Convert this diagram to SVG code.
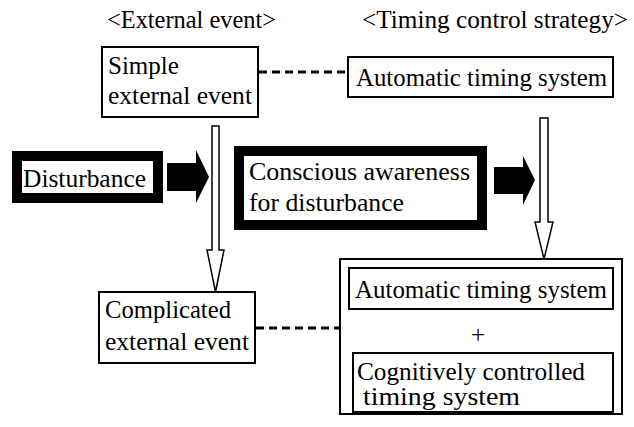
<svg xmlns="http://www.w3.org/2000/svg" width="634" height="427" viewBox="0 0 634 427">
<style>
.thin{fill:#fff;stroke:#000;stroke-width:2}
.thick{fill:#fff;stroke:#000;stroke-width:10}
.dash{fill:none;stroke:#000;stroke-width:3;stroke-dasharray:8 5}
.hollow{fill:#fff;stroke:#000;stroke-width:1.5}
.solid{fill:#000;stroke:none}
.t{font-family:'Liberation Serif','Times New Roman',serif;font-size:25px;fill:#000}
</style>
<rect width="634" height="427" fill="#fff"/>
<g id="headers">
<text class="t" x="107" y="28" textLength="169" lengthAdjust="spacingAndGlyphs">&lt;External event&gt;</text>
<text class="t" x="362" y="28" textLength="266" lengthAdjust="spacingAndGlyphs">&lt;Timing control strategy&gt;</text>
</g>
<g id="connectors">
<line class="dash" x1="259" y1="72" x2="348" y2="72"/>
<line class="dash" x1="256" y1="328" x2="340" y2="328"/>
<path class="solid" d="M167,163 H196 V150 L209,177 L196,203 V191 H167 Z"/>
<path class="solid" d="M494,167 H523 V156 L535,180 L523,205 V194 H494 Z"/>
<path class="hollow" d="M212,126 H219 V250 H224 L215.5,292 L207,250 H212 Z"/>
<path class="hollow" d="M540,118 H548 V222 H553 L544,259 L535,222 H540 Z"/>
</g>
<g id="simple">
<rect class="thin" x="102" y="47" width="156" height="70"/>
<text class="t" x="108" y="74">Simple</text>
<text class="t" x="108" y="104" textLength="144" lengthAdjust="spacingAndGlyphs">external event</text>
</g>
<g id="auto-top">
<rect class="thin" x="348" y="57" width="265" height="40"/>
<text class="t" x="356" y="86" textLength="251" lengthAdjust="spacingAndGlyphs">Automatic timing system</text>
</g>
<g id="disturbance">
<rect class="thick" x="17" y="156" width="141" height="42"/>
<text class="t" x="23" y="187" textLength="123" lengthAdjust="spacingAndGlyphs">Disturbance</text>
</g>
<g id="conscious">
<rect class="thick" x="239" y="151" width="243" height="74"/>
<text class="t" x="249" y="180" textLength="221" lengthAdjust="spacingAndGlyphs">Conscious awareness</text>
<text class="t" x="249" y="211" textLength="155" lengthAdjust="spacingAndGlyphs">for disturbance</text>
</g>
<g id="complicated">
<rect class="thin" x="99" y="292" width="156" height="71"/>
<text class="t" x="105" y="318" textLength="126" lengthAdjust="spacingAndGlyphs">Complicated</text>
<text class="t" x="105" y="350" textLength="144" lengthAdjust="spacingAndGlyphs">external event</text>
</g>
<g id="combined">
<rect class="thin" x="340" y="259" width="282" height="155"/>
<rect class="thin" x="349" y="268" width="264" height="41"/>
<text class="t" x="355" y="298" textLength="252" lengthAdjust="spacingAndGlyphs">Automatic timing system</text>
<text class="t" x="478" y="343" text-anchor="middle">+</text>
<rect class="thin" x="353" y="353" width="260" height="59"/>
<text class="t" x="357" y="380" textLength="228" lengthAdjust="spacingAndGlyphs">Cognitively controlled</text>
<text class="t" x="363" y="405" textLength="157" lengthAdjust="spacingAndGlyphs">timing system</text>
</g>
</svg>
